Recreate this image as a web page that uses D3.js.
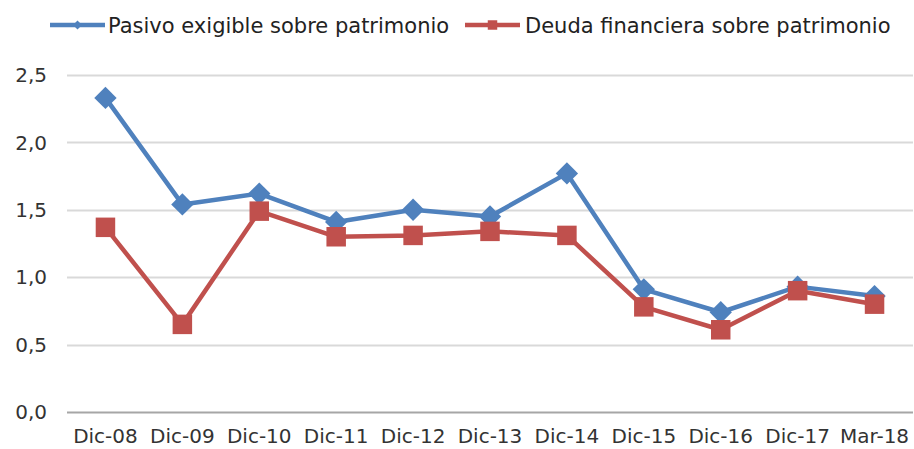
<!DOCTYPE html>
<meta charset="utf-8">
<script src="https://d3js.org/d3.v7.min.js"></script>
<style>
	body{
		margin:0;
		background:#fff;
		font-family: 'DejaVu Sans', Verdana, sans-serif;
	}
	text{
		fill:#333;
	}
</style>
<div id="chart"></div>
<script>

	// categories and series
	var categories = ["Dic-08","Dic-09","Dic-10","Dic-11","Dic-12","Dic-13","Dic-14","Dic-15","Dic-16","Dic-17","Mar-18"]
	var pasivo = [2.33,1.54,1.62,1.41,1.50,1.45,1.77,0.91,0.74,0.93,0.86]
	var deuda = [1.37,0.65,1.49,1.30,1.31,1.34,1.31,0.78,0.61,0.90,0.80]
	var yTicks = [0,0.5,1,1.5,2,2.5]
	var seriesNames = ["Pasivo exigible sobre patrimonio","Deuda financiera sobre patrimonio"]

	var w = 914
	var h = 449
	var margin = {left:67, right:1, top:75, bottom:37}

	var svg = d3.select("#chart").append("svg")
		.attr("width",w)
		.attr("height",h)

	var x = d3.scaleBand()
		.domain(categories)
		.range([margin.left, w-margin.right])

	var y = d3.scaleLinear()
		.domain([0,2.5])
		.range([h-margin.bottom, margin.top])

	var fmt = function(d){ return d3.format(".1f")(d).replace(".",",") }

	// gridlines
	svg.append("g")
		.selectAll("line")
		.data(yTicks)
		.join("line")
		.attr("x1",margin.left)
		.attr("x2",w-margin.right)
		.attr("y1",function(d){ return Math.round(y(d))+0.5 })
		.attr("y2",function(d){ return Math.round(y(d))+0.5 })
		.attr("stroke",function(d){ return d==0 ? "#a6a6a6" : "#d9d9d9" })
		.attr("stroke-width",2)

	// y labels
	svg.append("g")
		.selectAll("text")
		.data(yTicks)
		.join("text")
		.text(fmt)
		.attr("x",47)
		.attr("y",function(d){ return y(d) })
		.attr("dy","0.36em")
		.attr("text-anchor","end")
		.style("font-size","20px")

	// x labels
	svg.append("g")
		.selectAll("text")
		.data(categories)
		.join("text")
		.text(function(d){ return d })
		.attr("x",function(d){ return x(d)+x.bandwidth()/2 })
		.attr("y",443)
		.attr("text-anchor","middle")
		.style("font-size","20px")

	var line = d3.line()
		.x(function(d,i){ return x(categories[i])+x.bandwidth()/2 })
		.y(function(d){ return y(d) })

	var series = [
		{name:seriesNames[0], values:pasivo, color:"#4F81BD", rot:45, size:250, lsize:40},
		{name:seriesNames[1], values:deuda, color:"#C0504D", rot:0, size:380, lsize:90}
	]

	series.forEach(function(s){
		svg.append("path")
			.attr("d",line(s.values))
			.attr("fill","none")
			.attr("stroke",s.color)
			.attr("stroke-width",4.5)
			.attr("stroke-linejoin","round")

		svg.append("g")
			.selectAll("path")
			.data(s.values)
			.join("path")
			.attr("d",d3.symbol().type(d3.symbolSquare).size(s.size))
			.attr("transform",function(d,i){
				return "translate("+(x(categories[i])+x.bandwidth()/2)+","+y(d)+") rotate("+s.rot+")"
			})
			.attr("fill",s.color)
	})

	// legend
	var legendPos = [{lx:50, tx:108},{lx:465, tx:525}]
	series.forEach(function(s,i){
		var g = svg.append("g").attr("transform","translate(0,25)")
		g.append("line")
			.attr("x1",legendPos[i].lx)
			.attr("x2",legendPos[i].lx+55)
			.attr("stroke",s.color)
			.attr("stroke-width",4.5)
		g.append("path")
			.attr("d",d3.symbol().type(d3.symbolSquare).size(s.lsize))
			.attr("transform","translate("+(legendPos[i].lx+27.5)+",0) rotate("+s.rot+")")
			.attr("fill",s.color)
		g.append("text")
			.text(s.name)
			.attr("x",legendPos[i].tx)
			.attr("dy","0.36em")
			.style("font-size","21px")
			.style("fill","#222")
	})

</script>
